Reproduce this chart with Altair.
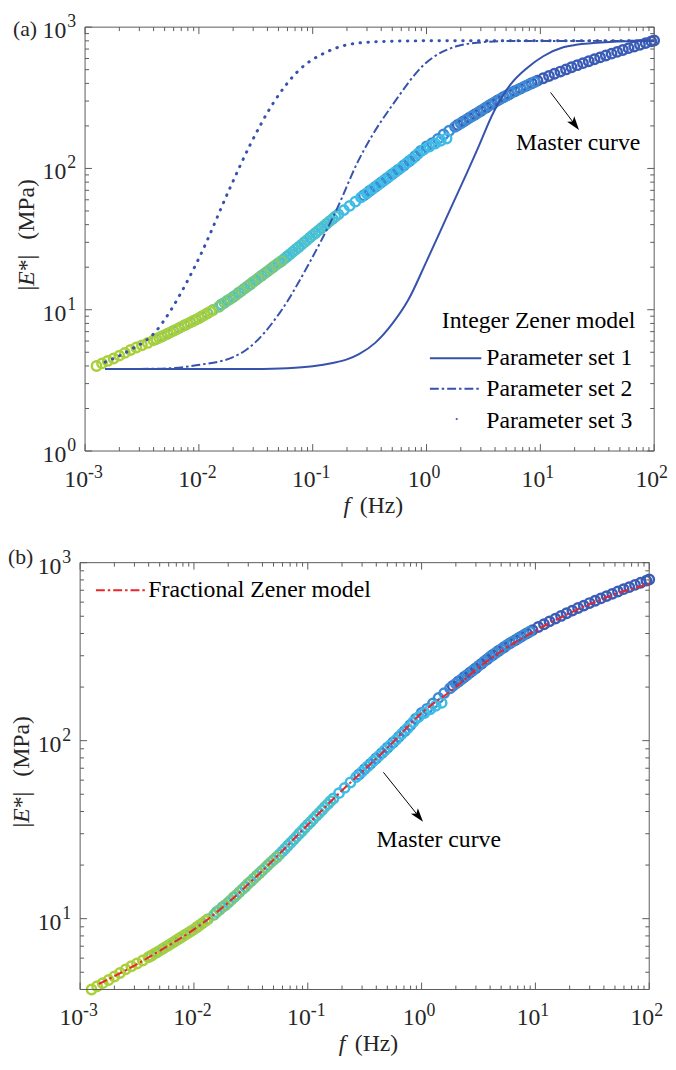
import altair as alt
import pandas as pd

FONT = "Liberation Serif"
AX = "#5a5a5a"
LBL = "#262626"
BLUE = "#3652AC"
RED = "#E8262B"

# ---------------- master curve (shifted data, one list per temperature) ----------------
seg_names = ["T1", "T2", "T3", "T4", "T5", "T6"]
seg_colors = ["#AACF3A", "#7DC878", "#4FC2C6", "#3DBCE6", "#3D8BD5", "#3A5CB6"]

s1_f = [0.00126, 0.00141, 0.00158, 0.00178, 0.00200, 0.00224, 0.00251, 0.00282, 0.00316, 0.00355,
        0.00398, 0.00447, 0.00501, 0.00562, 0.00631, 0.00708, 0.00794, 0.00891, 0.0100, 0.0112, 0.0126]
s1_E = [4.00, 4.17, 4.34, 4.52, 4.73, 4.95, 5.19, 5.40, 5.60, 5.82, 6.07, 6.34, 6.61, 6.92, 7.24,
        7.59, 7.94, 8.32, 8.71, 9.18, 9.70]

s2_f = [0.00422, 0.00473, 0.00531, 0.00596, 0.00668, 0.00750, 0.00841, 0.00944, 0.0106, 0.0119,
        0.0133, 0.0150, 0.0168, 0.0188, 0.0211, 0.0237, 0.0266, 0.0299, 0.0335, 0.0376, 0.0422,
        0.0473, 0.0531]
s2_E = [6.19, 6.47, 6.76, 7.08, 7.41, 7.76, 8.13, 8.51, 8.95, 9.44, 9.95, 10.5, 11.2, 11.9, 12.7,
        13.6, 14.6, 15.7, 16.8, 18.0, 19.3, 20.7, 22.1]

s3_f = [0.0158, 0.0178, 0.0200, 0.0224, 0.0251, 0.0282, 0.0316, 0.0355, 0.0398, 0.0447, 0.0501,
        0.0562, 0.0631, 0.0708, 0.0794, 0.0891, 0.100, 0.112, 0.126, 0.141, 0.158]
s3_E = [10.9, 11.6, 12.3, 13.2, 14.1, 15.1, 16.2, 17.4, 18.6, 20.0, 21.4, 22.9, 24.7, 26.7, 28.8,
        31.1, 33.7, 36.3, 39.2, 42.4, 45.7]

s4_f = [0.0531, 0.0596, 0.0668, 0.0750, 0.0841, 0.0944, 0.106, 0.119, 0.133, 0.150, 0.168, 0.188,
        0.211, 0.237, 0.266, 0.299, 0.335, 0.376, 0.422, 0.473, 0.531, 0.596, 0.668, 0.750, 0.841,
        0.944, 1.06, 1.19, 1.33, 1.50]
s4_E = [22.1, 23.8, 25.7, 27.7, 30.0, 32.4, 34.9, 37.8, 40.7, 44.0, 47.3, 50.7, 54.3, 58.2, 62.4,
        66.8, 71.6, 76.7, 82.2, 88.1, 94.4, 101, 109, 117, 127, 136, 143, 150, 157, 163]

s5_f = [0.282, 0.316, 0.355, 0.398, 0.447, 0.501, 0.562, 0.631, 0.708, 0.794, 0.891, 1.00, 1.12,
        1.26, 1.41, 1.58, 1.78, 2.00, 2.24, 2.51, 2.82, 3.16, 3.55, 3.98, 4.47, 5.01, 5.62, 6.31,
        7.08, 7.94, 8.91]
s5_E = [64.6, 69.2, 74.1, 79.4, 85.1, 91.2, 97.7, 105, 113, 122, 133, 143, 151, 162, 174, 185, 197,
        209, 221, 234, 248, 263, 279, 295, 311, 327, 344, 360, 376, 393, 409]

s6_f = [1.88, 2.11, 2.37, 2.66, 2.99, 3.35, 3.76, 4.22, 4.73, 5.31, 5.96, 6.68, 7.50, 8.41, 9.44,
        10.6, 11.9, 13.3, 15.0, 16.8, 18.8, 21.1, 23.7, 26.6, 29.9, 33.5, 37.6, 42.2, 47.3, 53.1,
        59.6, 66.8, 75.0, 84.1, 94.4, 100]
s6_E = [203, 215, 228, 241, 255, 270, 286, 303, 319, 335, 352, 367, 384, 401, 418, 435, 451, 468,
        485, 502, 520, 538, 556, 574, 593, 611, 630, 649, 668, 689, 710, 729, 750, 771, 793, 804]

# ---------------- Integer Zener model curves (panel a) ----------------
z1_f = [0.0015, 0.01, 0.03, 0.06, 0.1, 0.15, 0.2, 0.255, 0.356, 0.497, 0.694, 1.0, 1.5, 2.29,
        2.79, 3.93, 5.5, 7.6, 10.7, 15.9, 20.6, 40.5, 100]
z1_E = [3.8, 3.8, 3.81, 3.86, 3.98, 4.2, 4.45, 4.85, 5.85, 7.9, 11.8, 22, 45, 95, 136, 255, 395,
        512, 625, 720, 750, 785, 800]

z2_f = [0.0015, 0.004, 0.0074, 0.0098, 0.02, 0.0265, 0.0513, 0.093, 0.16, 0.254, 0.336, 0.5, 0.97,
        1.87, 3.0, 5.0, 100]
z2_E = [3.8, 3.82, 3.93, 4.06, 4.62, 5.25, 9.5, 21.3, 50, 115, 173, 280, 551, 736, 780, 798, 800]

z3_f = [0.0015, 0.00256, 0.0041, 0.0057, 0.0075, 0.0102, 0.0189, 0.0282, 0.0455, 0.072, 0.139,
        0.254, 0.5, 1.0, 100]
z3_E = [4.26, 5.25, 6.9, 10, 14.7, 23.9, 73.7, 147, 294, 476, 679, 773, 795, 800, 800]

# ---------------- Fractional Zener model (panel b) ----------------
fz_f = [0.00146, 0.002, 0.003, 0.005, 0.01, 0.02, 0.03, 0.05, 0.1, 0.2, 0.3, 0.5, 1, 2, 3, 5, 10,
        20, 30, 50, 100]
fz_E = [4.3, 4.75, 5.45, 6.6, 8.7, 12.3, 15.6, 21.4, 33.7, 52.5, 66.8, 91, 143, 200, 250, 318, 415,
        520, 585, 665, 760]

# ---------------- axis tick values and labels ----------------
x_major = [0.001, 0.01, 0.1, 1, 10, 100]
x_exp = ["-3", "-2", "-1", "0", "1", "2"]
mant = [2, 3, 4, 5, 6, 7, 8, 9]
x_minor = [m * d for d in [0.001, 0.01, 0.1, 1, 10] for m in mant]
y1_major = [1, 10, 100, 1000]
y1_exp = ["0", "1", "2", "3"]
y1_minor = [m * d for d in [1, 10, 100] for m in mant]
y2_major = [10, 100, 1000]
y2_exp = ["1", "2", "3"]
y2_minor = [5, 6, 7, 8, 9] + [m * d for d in [10, 100] for m in mant]

# annotation anchors (data units)
arrow_a = {"f": [12.3], "E": [345], "f2": [19.8], "E2": [208]}
label_a = {"f": [21.5], "E": [152]}
arrow_b = {"f": [0.462], "E": [66.4], "f2": [0.929], "E2": [38.0]}
label_b = {"f": [1.416], "E": [27.8]}

# ---------------- build ----------------
segs = [(s6_f, s6_E, "T6"), (s5_f, s5_E, "T5"), (s4_f, s4_E, "T4"),
        (s3_f, s3_E, "T3"), (s2_f, s2_E, "T2"), (s1_f, s1_E, "T1")]
master = pd.concat([pd.DataFrame({"f": f, "E": e, "seg": n}) for f, e, n in segs],
                   ignore_index=True)

W = 576
H1 = 429
H2 = 432
OY2 = 542          # top of panel (b) below top of panel (a)
one = pd.DataFrame({"a": [0]})
ARROW = "M0,-1L0.55,0.7L0,0.3L-0.55,0.7Z"


def make_panel(ox, oy, H, ydom, ymaj, yexp, ymin):
    xs = alt.Scale(type="log", domain=[1e-3, 1e2], range=[ox, ox + W])
    ys = alt.Scale(type="log", domain=ydom, range=[oy + H, oy])

    def XF(fld):
        return alt.X(fld, scale=xs, axis=None)

    def YF(fld):
        return alt.Y(fld, scale=ys, axis=None)

    def txt(s, x, y, size=24, align="center", angle=0, style="normal", color="#000"):
        kw = dict(text=s, font=FONT, fontSize=size, align=align, baseline="middle",
                  color=color, fontStyle=style)
        if angle:
            kw["angle"] = angle
        return alt.Chart(one).mark_text(**kw).encode(x=alt.value(ox + x), y=alt.value(oy + y))

    def hrule(x0, x1, y, **mk):
        return alt.Chart(one).mark_rule(**mk).encode(
            x=alt.value(ox + x0), x2=alt.value(ox + x1), y=alt.value(oy + y))

    def curve(f, e, **mk):
        return alt.Chart(pd.DataFrame({"f": f, "E": e})).mark_line(
            interpolate="monotone", **mk).encode(x=XF("f:Q"), y=YF("E:Q"))

    L = []
    L.append(alt.Chart(master).mark_point(shape="circle", filled=False, size=90, strokeWidth=2.5,
                                          opacity=1).encode(
        x=XF("f:Q"), y=YF("E:Q"),
        color=alt.Color("seg:N", scale=alt.Scale(domain=seg_names, range=seg_colors), legend=None)))

    # frame
    L.append(hrule(0, W, 0, color=AX, strokeWidth=1))
    L.append(hrule(0, W, H, color=AX, strokeWidth=1))
    for xx in (0, W):
        L.append(alt.Chart(one).mark_rule(color=AX, strokeWidth=1).encode(
            x=alt.value(ox + xx), y=alt.value(oy), y2=alt.value(oy + H)))

    # inward ticks on all four sides
    for vals, ln in ((x_major, 7), (x_minor, 4)):
        df = pd.DataFrame({"v": vals})
        L.append(alt.Chart(df).mark_rule(color=AX, strokeWidth=1).encode(
            x=XF("v:Q"), y=alt.value(oy + H), y2=alt.value(oy + H - ln)))
        L.append(alt.Chart(df).mark_rule(color=AX, strokeWidth=1).encode(
            x=XF("v:Q"), y=alt.value(oy), y2=alt.value(oy + ln)))
    for vals, ln in ((ymaj, 7), (ymin, 4)):
        df = pd.DataFrame({"v": vals})
        L.append(alt.Chart(df).mark_rule(color=AX, strokeWidth=1).encode(
            y=YF("v:Q"), x=alt.value(ox), x2=alt.value(ox + ln)))
        L.append(alt.Chart(df).mark_rule(color=AX, strokeWidth=1).encode(
            y=YF("v:Q"), x=alt.value(ox + W), x2=alt.value(ox + W - ln)))

    # tick labels: "10" with a superscript exponent
    df_neg = pd.DataFrame({"v": x_major[:3], "e": x_exp[:3]})
    df_pos = pd.DataFrame({"v": x_major[3:], "e": x_exp[3:]})
    for df, d in ((df_neg, 3), (df_pos, 5)):
        L.append(alt.Chart(df).mark_text(text="10", font=FONT, fontSize=24, align="right",
                                         baseline="middle", dx=d, color=LBL).encode(
            x=XF("v:Q"), y=alt.value(oy + H + 29)))
        L.append(alt.Chart(df).mark_text(font=FONT, fontSize=18, align="left",
                                         baseline="middle", dx=d, dy=-7, color=LBL).encode(
            x=XF("v:Q"), y=alt.value(oy + H + 29), text="e:N"))
    dfy = pd.DataFrame({"v": ymaj, "e": yexp})
    L.append(alt.Chart(dfy).mark_text(text="10", font=FONT, fontSize=24, align="right",
                                      baseline="middle", dy=4, color=LBL).encode(
        x=alt.value(ox - 19), y=YF("v:Q")))
    L.append(alt.Chart(dfy).mark_text(font=FONT, fontSize=18, align="right",
                                      baseline="middle", dy=-5, color=LBL).encode(
        x=alt.value(ox - 9), y=YF("v:Q"), text="e:N"))

    # y title  |E*|  (MPa)
    cy = H / 2
    c2 = cy + 34
    L += [txt("(MPa)", -59, cy - 30, angle=270, color=LBL),
          txt("|", -59, c2 + 15.75, angle=270, color=LBL),
          txt("E", -59, c2 + 6.0, angle=270, style="italic", color=LBL),
          txt("*|", -59, c2 - 9.75, angle=270, color=LBL)]
    return L, txt, hrule, curve, XF, YF


def arrow(a, lab, XF, YF, angle):
    d = pd.DataFrame(a)
    line = alt.Chart(d).mark_rule(color="black", strokeWidth=1).encode(
        x=XF("f:Q"), y=YF("E:Q"), x2="f2:Q", y2="E2:Q")
    head = alt.Chart(d).mark_point(shape=ARROW, filled=True, color="black", size=270,
                                   angle=angle, opacity=1).encode(x=XF("f2:Q"), y=YF("E2:Q"))
    t = alt.Chart(pd.DataFrame(lab)).mark_text(text="Master curve", font=FONT, fontSize=24,
                                              color="#000", baseline="middle").encode(
        x=XF("f:Q"), y=YF("E:Q"))
    return [line, head, t]


# ---- panel (a)
La, txt, hrule, curve, XF, YF = make_panel(5, 0, H1, [1, 1e3], y1_major, y1_exp, y1_minor)
La += [curve(z1_f, z1_E, color=BLUE, strokeWidth=2),
       curve(z2_f, z2_E, color=BLUE, strokeWidth=2, strokeDash=[9, 3, 2.5, 3]),
       curve(z3_f, z3_E, color=BLUE, strokeWidth=3, strokeDash=[0.5, 7.5], strokeCap="round")]
La += arrow(arrow_a, label_a, XF, YF, 142.6)
La += [txt("Integer Zener model", 459, 297),
       hrule(349, 401, 335, color=BLUE, strokeWidth=2),
       txt("Parameter set 1", 406, 335, align="left"),
       hrule(349, 401, 366, color=BLUE, strokeWidth=2, strokeDash=[9, 3, 2.5, 3]),
       txt("Parameter set 2", 406, 366, align="left"),
       txt("•", 376, 398, size=8, color=BLUE),
       txt("Parameter set 3", 406, 399, align="left"),
       txt("f", 265, H1 + 56, style="italic", color=LBL),
       txt("(Hz)", 278, H1 + 56, align="left", color=LBL),
       txt("(a)", -73, 1.5, size=22, align="left", color=LBL)]

# ---- panel (b)
Lb, txt, hrule, curve, XF, YF = make_panel(0, OY2, H2, [4, 1e3], y2_major, y2_exp, y2_minor)
Lb += [curve(fz_f, fz_E, color=RED, strokeWidth=2, strokeDash=[9, 3, 2.5, 3])]
Lb += arrow(arrow_b, label_b, XF, YF, 141.3)
Lb += [hrule(16, 67, 28, color=RED, strokeWidth=2, strokeDash=[9, 3, 2.5, 3]),
       txt("Fractional Zener model", 69, 28, align="left"),
       txt("f", 265, H2 + 55, style="italic", color=LBL),
       txt("(Hz)", 278, H2 + 55, align="left", color=LBL),
       txt("(b)", -73, -6, size=22, align="left", color=LBL)]

chart = alt.layer(*La, *Lb).resolve_scale(x="independent", y="independent").properties(
    width=W + 5, height=OY2 + H2,
    autosize=alt.AutoSizeParams(type="none"),
    padding={"left": 73, "top": 13, "right": 14, "bottom": 67},
).configure_view(stroke=None)

chart.save("out.html", embed_options={"renderer": "svg", "actions": False})
